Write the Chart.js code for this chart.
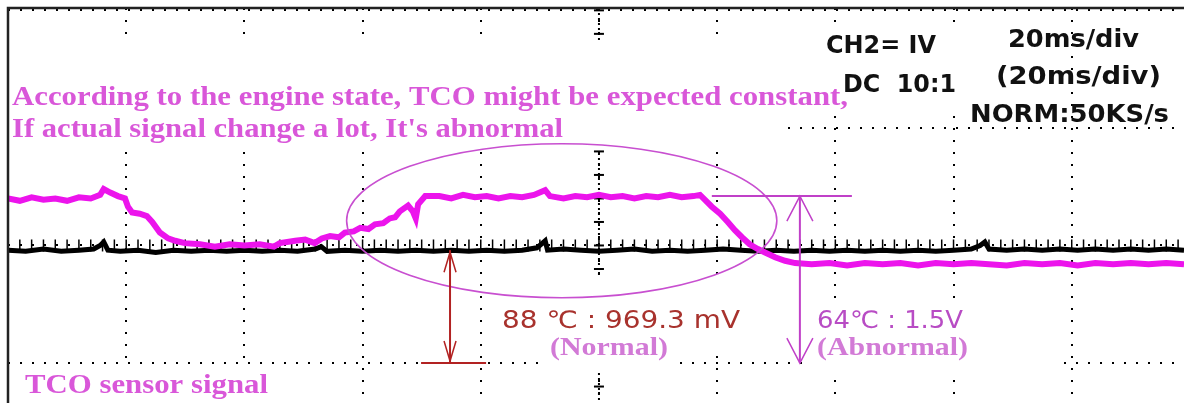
<!DOCTYPE html>
<html>
<head>
<meta charset="utf-8">
<script src="https://cdn.jsdelivr.net/npm/chart.js@4"></script>
<style>
  html,body{margin:0;padding:0;background:#fff;}
  #scope{display:block;}
</style>
</head>
<body>
<canvas id="scope" width="1184" height="403"></canvas>
<script>
// ----------------- Data (ms, volts) -----------------
// 20 ms/div, CH2 = 1 V/div
const tcoTime  = [0,2,4,6,8,10,12,14,15.6,16.2,17.3,18.6,19.8,
  20.3,21,22.3,23.5,24.4,25.7,27.1,28.3,29.9,
  32.5,35,37.5,40,42.6,45,46,48.6,50.3,51.9,
  53.1,54.5,56,57,58.5,59.6,61,62.1,63.5,64.6,65.5,66.3,67.7,68.5,69,69.4,70.6,
  73,75,77,79,81,83,85,87,89,90.9,91.7,94,96,98,100,102,104,106,108,110,112,114,116,117.1,
  117.9,119.1,120.5,121.8,123,124.2,125.5,126.9,128.1,129.8,131.5,133.2,
  136,139,142,145,148,151,154,157,160,163,166,169,172,175,178,181,184,187,190,193,196,199];
const tcoVolts = [1.40,1.38,1.41,1.39,1.40,1.38,1.41,1.40,1.43,1.48,1.45,1.42,1.40,
  1.33,1.28,1.27,1.25,1.20,1.11,1.06,1.04,1.02,
  1.01,0.99,1.01,1.00,1.01,0.99,1.02,1.04,1.05,1.02,
  1.06,1.08,1.07,1.11,1.12,1.15,1.14,1.18,1.19,1.23,1.24,1.29,1.34,1.29,1.23,1.35,1.42,
  1.42,1.40,1.43,1.41,1.42,1.40,1.42,1.41,1.43,1.47,1.42,1.40,1.42,1.41,1.43,1.41,1.42,1.40,1.42,1.41,1.43,1.41,1.42,1.43,
  1.39,1.33,1.27,1.20,1.13,1.07,1.01,0.97,0.94,0.90,0.87,0.85,
  0.84,0.85,0.83,0.85,0.84,0.85,0.83,0.85,0.84,0.85,0.84,0.83,0.85,0.84,0.85,0.83,0.85,0.84,0.85,0.84,0.85,0.84];

const refTime  = [0,3,6,9,12,14.5,15.6,16.2,16.9,19,22,25,28,31,34,37,40,43,46,49,52,53,54,57,60,63,66,69,72,75,78,81,84,87,89.5,90.9,91.3,
  94,97,100,103,106,109,112,115,118,121,124,127,130,133,136,139,142,145,148,151,154,157,160,163,164.5,165.3,166,169,172,175,178,181,184,187,190,193,196,199];
const refVolts = [0.96,0.95,0.97,0.95,0.96,0.97,1.00,1.03,0.96,0.95,0.96,0.94,0.96,0.95,0.96,0.95,0.96,0.95,0.96,0.95,0.97,0.99,0.95,0.96,0.95,0.96,0.95,0.96,0.95,0.96,0.95,0.96,0.95,0.96,0.98,1.04,0.96,
  0.97,0.96,0.95,0.96,0.97,0.95,0.96,0.95,0.96,0.97,0.96,0.95,0.96,0.95,0.96,0.95,0.96,0.95,0.96,0.95,0.96,0.95,0.96,0.97,1.00,1.03,0.97,0.96,0.97,0.96,0.97,0.96,0.97,0.96,0.97,0.96,0.97,0.96];

const timeTicks = [0,20,40,60,80,100,120,140,160,180];
const voltTicks = [0,1,2,3];

// annotation anchors, in data units
const normalArrow   = {ms:74.8, top:0.96, base:0, baseFrom:69.9, baseTo:80.9};
const abnormalArrow = {ms:134.0, top:1.42, base:0, topFrom:119.1, topTo:142.8};
const ringMark      = {ms:93.7, v:1.21, rx:36.4, ry:0.655};

// ----------------- Helpers -----------------
function fitText(ctx, text, x, y, width, font, color){
  ctx.save();
  ctx.font = font;
  ctx.fillStyle = color;
  ctx.textBaseline = "alphabetic";
  const w = ctx.measureText(text).width;
  ctx.translate(x, y);
  ctx.scale(width / w, 1);
  ctx.fillText(text, 0, 0);
  ctx.restore();
}

function arrowHead(ctx, x, y, dir, len, half){
  ctx.beginPath();
  ctx.moveTo(x - half, y + dir*len);
  ctx.lineTo(x, y);
  ctx.lineTo(x + half, y + dir*len);
  ctx.stroke();
}

// ----------------- Plugin: scope decorations -----------------
const scopePlugin = {
  id: "scope",
  beforeDatasetsDraw(chart){
    const ctx = chart.ctx, xs = chart.scales.x, ys = chart.scales.y, a = chart.chartArea;
    const X = v => xs.getPixelForValue(v), Y = v => ys.getPixelForValue(v);
    ctx.save();
    // centre cross ticks
    ctx.strokeStyle = "#000";
    ctx.lineWidth = 2;
    ctx.setLineDash([2, 3]);
    ctx.beginPath();
    ctx.moveTo(X(100), a.top); ctx.lineTo(X(100), a.bottom);
    ctx.stroke();
    ctx.setLineDash([]);
    ctx.lineWidth = 2;
    for(let v=-0.2; v<=3.01; v+=0.2){
      ctx.beginPath();
      ctx.moveTo(X(100)-5, Y(v)); ctx.lineTo(X(100)+5, Y(v));
      ctx.stroke();
    }
    ctx.lineWidth = 1.5;
    for(let t=0; t<=199; t+=2){
      ctx.beginPath();
      ctx.moveTo(X(t), Y(1)-6); ctx.lineTo(X(t), Y(1)+6);
      ctx.stroke();
    }
    // white label boxes that hide the graticule
    ctx.fillStyle = "#fff";
    [[9,40,785,150],[815,28,965,108],[9,368,290,403],[495,276,745,350],[545,335,675,372],[812,298,1062,378]]
      .forEach(r=>ctx.fillRect(r[0], r[1], r[2]-r[0], r[3]-r[1]));
    ctx.restore();

    // labels
    const serif = "bold 27px 'Liberation Serif', serif";
    const pink = "#d957d9";
    fitText(ctx, "According to the engine state, TCO might be expected constant,", 12, 105, 836, serif, pink);
    fitText(ctx, "If actual signal change a lot, It's abnormal", 12, 137, 551, serif, pink);
    fitText(ctx, "TCO sensor signal", 25, 393, 243, serif, pink);

    const lcd = "bold 24px 'DejaVu Sans', sans-serif";
    fitText(ctx, "CH2= IV", 826, 53, 110, lcd, "#111");
    fitText(ctx, "DC  10:1", 843, 92, 113, lcd, "#111");
    fitText(ctx, "20ms/div", 1008, 47, 131, lcd, "#111");
    fitText(ctx, "(20ms/div)", 996, 84, 165, lcd, "#111");
    fitText(ctx, "NORM:50KS/s", 970, 122, 199, lcd, "#111");

    const thin = "24px 'DejaVu Sans', sans-serif";
    fitText(ctx, "88 \u2103 : 969.3 mV", 502, 328, 238, thin, "#a8322d");
    fitText(ctx, "64\u2103 : 1.5V", 817, 328, 146, thin, "#b84cc4");
    const serif2 = "bold 25px 'Liberation Serif', serif";
    fitText(ctx, "(Normal)", 550, 355, 118, serif2, "#d27ad6");
    fitText(ctx, "(Abnormal)", 817, 355, 151, serif2, "#d27ad6");
  },
  afterDatasetsDraw(chart){
    const ctx = chart.ctx, xs = chart.scales.x, ys = chart.scales.y;
    const X = v => xs.getPixelForValue(v), Y = v => ys.getPixelForValue(v);
    ctx.save();
    // ellipse round the normal section
    ctx.strokeStyle = "#c84fd0";
    ctx.lineWidth = 1.6;
    ctx.beginPath();
    ctx.ellipse(X(ringMark.ms), Y(ringMark.v),
      X(ringMark.ms + ringMark.rx) - X(ringMark.ms),
      Y(ringMark.v - ringMark.ry) - Y(ringMark.v), 0, 0, Math.PI*2);
    ctx.stroke();

    // red (normal) arrow
    ctx.strokeStyle = "#b22222";
    ctx.lineWidth = 2;
    const rx = X(normalArrow.ms);
    ctx.beginPath();
    ctx.moveTo(rx, Y(normalArrow.top)); ctx.lineTo(rx, Y(normalArrow.base));
    ctx.moveTo(X(normalArrow.baseFrom), Y(normalArrow.base)); ctx.lineTo(X(normalArrow.baseTo), Y(normalArrow.base));
    ctx.stroke();
    ctx.lineWidth = 1.5;
    arrowHead(ctx, rx, Y(normalArrow.top)+2, 1, 20, 6);
    arrowHead(ctx, rx, Y(normalArrow.base)-2, -1, 20, 6);

    // magenta (abnormal) arrow
    ctx.strokeStyle = "#c040c8";
    ctx.lineWidth = 2;
    const mx = X(abnormalArrow.ms);
    ctx.beginPath();
    ctx.moveTo(mx, Y(abnormalArrow.top)); ctx.lineTo(mx, Y(abnormalArrow.base));
    ctx.moveTo(X(abnormalArrow.topFrom), Y(abnormalArrow.top)); ctx.lineTo(X(abnormalArrow.topTo), Y(abnormalArrow.top));
    ctx.stroke();
    ctx.lineWidth = 1.5;
    arrowHead(ctx, mx, Y(abnormalArrow.top), 1, 25, 13);
    arrowHead(ctx, mx, Y(abnormalArrow.base), -1, 25, 13);
    ctx.restore();
  },
  afterDraw(chart){
    const ctx = chart.ctx, a = chart.chartArea;
    ctx.save();
    ctx.strokeStyle = "#222";
    ctx.lineWidth = 2.5;
    ctx.beginPath();
    ctx.moveTo(a.left, a.bottom); ctx.lineTo(a.left, a.top); ctx.lineTo(a.right, a.top);
    ctx.stroke();
    ctx.restore();
  }
};

// ----------------- Chart -----------------
new Chart(document.getElementById("scope"), {
  type: "line",
  data: {
    datasets: [
      {label:"TCO (abnormal)", data: tcoTime.map((t,i)=>({x:t, y:tcoVolts[i]})),
       borderColor:"#ec14ec", borderWidth:6, pointRadius:0, tension:0, order:0},
      {label:"TCO (normal)", data: refTime.map((t,i)=>({x:t, y:refVolts[i]})),
       borderColor:"#000", borderWidth:5, pointRadius:0, tension:0, order:1}
    ]
  },
  options: {
    responsive:false, animation:false,
    layout:{padding:{left:8, top:8, right:0, bottom:0}},
    plugins:{legend:{display:false}, tooltip:{enabled:false}},
    scales:{
      x:{type:"linear", min:0, max:199,
         afterBuildTicks: ax => { ax.ticks = timeTicks.map(v=>({value:v})); },
         ticks:{display:false},
         grid:{color:"#000", lineWidth:2, drawTicks:false},
         border:{display:false, dash:[2,10]}},
      y:{type:"linear", min:-0.34, max:3.02,
         afterBuildTicks: ax => { ax.ticks = voltTicks.map(v=>({value:v})); },
         ticks:{display:false},
         grid:{color:"#000", lineWidth:2, drawTicks:false},
         border:{display:false, dash:[2,10]}}
    }
  },
  plugins:[scopePlugin]
});
</script>
</body>
</html>
